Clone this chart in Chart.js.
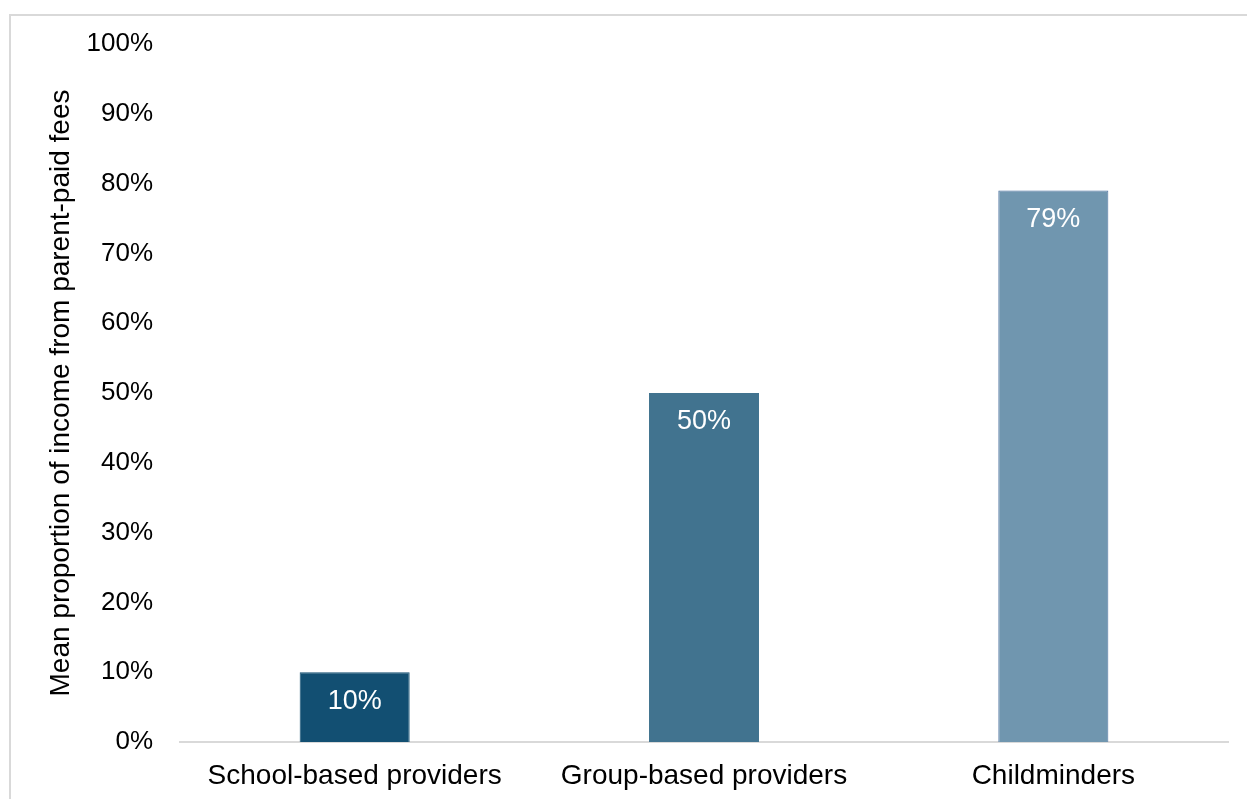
<!DOCTYPE html>
<html>
<head>
<meta charset="utf-8">
<script src="https://cdn.jsdelivr.net/npm/chart.js@4/dist/chart.umd.min.js"></script>
<style>
  html, body { margin: 0; padding: 0; background: #fff; overflow: hidden; }
  #frame {
    position: absolute; left: 9px; top: 14px; width: 1260px; height: 800px;
    border: 2px solid #d9d9d9; box-sizing: border-box;
  }
  #wrap { position: absolute; left: 0; top: 0; width: 1247px; height: 799px; }
</style>
</head>
<body>
<div id="frame"></div>
<div id="wrap"><canvas id="myChart" width="1247" height="799"></canvas></div>
<script>
const categories = ["School-based providers", "Group-based providers", "Childminders"];
const meanShare = [10, 50, 79];
const barColors = ["#124f72", "#41738f", "#7096af"];
const barBorders = ["#124f72", "#41738f", "#4a6f9e"];
const axisTitle = "Mean proportion of income from parent-paid fees";

const FONT = "'Liberation Sans', Arial, sans-serif";

// white value labels just inside the top of each bar
const valueLabels = {
  id: "valueLabels",
  afterDatasetsDraw(chart) {
    const ctx = chart.ctx;
    const meta = chart.getDatasetMeta(0);
    ctx.save();
    ctx.fillStyle = "#ffffff";
    ctx.font = "27px " + FONT;
    ctx.textAlign = "center";
    ctx.textBaseline = "middle";
    meta.data.forEach((bar, i) => {
      ctx.fillText(meanShare[i] + "%", bar.x, bar.y + 29);
    });
    ctx.restore();
  }
};

const ctx = document.getElementById("myChart").getContext("2d");
new Chart(ctx, {
  type: "bar",
  data: {
    labels: categories,
    datasets: [{
      data: meanShare,
      backgroundColor: barColors,
      borderColor: barBorders,
      borderWidth: 1,
      barPercentage: 0.63,
      categoryPercentage: 0.5
    }]
  },
  options: {
    responsive: false,
    animation: false,
    layout: { padding: { left: 0, top: 44, right: 19, bottom: 0 } },
    plugins: {
      legend: { display: false },
      tooltip: { enabled: false }
    },
    scales: {
      x: {
        grid: { display: false, drawTicks: false },
        border: { display: true, color: "#d9d9d9", width: 2 },
        ticks: { color: "#000", font: { family: FONT, size: 28 }, padding: 17, maxRotation: 0 },
        afterFit(scale) { scale.height = 57; }
      },
      y: {
        min: 0,
        max: 100,
        grid: { display: false, drawTicks: false },
        border: { display: false },
        ticks: {
          stepSize: 10,
          color: "#000",
          font: { family: FONT, size: 26 },
          padding: 27,
          callback: v => v + "%"
        },
        title: {
          display: true,
          text: axisTitle,
          color: "#000",
          font: { family: FONT, size: 28 },
          padding: { top: 44, bottom: 0 }
        },
        afterFit(scale) { scale.width = 180; }
      }
    }
  },
  plugins: [valueLabels]
});
</script>
</body>
</html>
